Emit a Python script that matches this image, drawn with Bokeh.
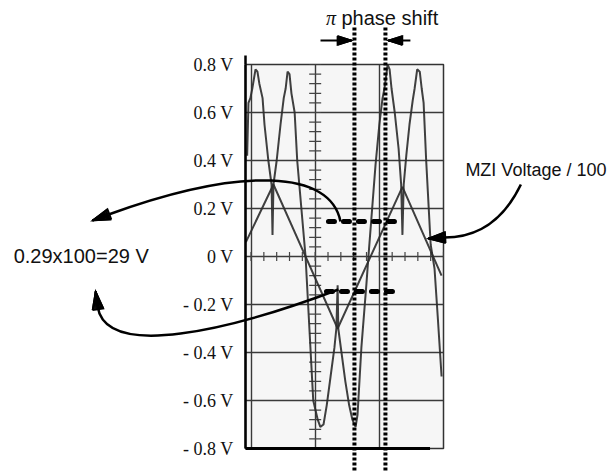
import numpy as np
from bokeh.plotting import figure
from bokeh.models import Range1d, FixedTicker, Grid
from bokeh.core.properties import value
from bokeh.embed import file_html
from bokeh.resources import INLINE

# ---- data (time in screen divisions, voltage in V) ----
det_t = [-0.06, -0.04, -0.01, 0.02, 0.07, 0.10, 0.13, 0.18, 0.21, 0.27, 0.32, 0.335, 0.35,
         0.40, 0.46, 0.51, 0.54, 0.57, 0.60, 0.63, 0.68, 0.72, 0.85, 0.97, 1.04, 1.08,
         1.13, 1.18, 1.24, 1.30, 1.33, 1.35, 1.36, 1.41, 1.47, 1.53, 1.58, 1.63, 1.66,
         1.72, 1.80, 1.83, 1.94, 2.00, 2.05, 2.08, 2.13, 2.16, 2.19, 2.24, 2.30, 2.34,
         2.36, 2.38, 2.42, 2.47, 2.52, 2.55, 2.59, 2.63, 2.66, 2.69, 2.73, 2.80, 2.86,
         2.91, 2.97]
det_v = [0.42, 0.64, 0.66, 0.70, 0.78, 0.77, 0.72, 0.66, 0.55, 0.40, 0.30, 0.09, 0.30,
         0.40, 0.55, 0.66, 0.70, 0.77, 0.76, 0.68, 0.60, 0.40, 0.00, -0.60, -0.68, -0.71,
         -0.70, -0.62, -0.50, -0.38, -0.30, -0.12, -0.30, -0.40, -0.52, -0.62, -0.68, -0.71, -0.66,
         -0.38, -0.11, 0.00, 0.38, 0.55, 0.66, 0.70, 0.80, 0.78, 0.70, 0.60, 0.45, 0.30,
         0.09, 0.30, 0.42, 0.55, 0.65, 0.70, 0.78, 0.77, 0.70, 0.64, 0.40, 0.05, -0.05,
         -0.25, -0.50]
mzi_t = [-0.08, 0.35, 1.35, 2.36, 2.97]
mzi_v = [0.06, 0.30, -0.30, 0.29, -0.08]

y_ticks = [-0.8, -0.6, -0.4, -0.2, 0.0, 0.2, 0.4, 0.6, 0.8]
y_tick_labels = ["- 0.8 V", "- 0.6 V", "- 0.4 V", "- 0.2 V", "0 V",
                 "0.2 V", "0.4 V", "0.6 V", "0.8 V"]
x_divs = [0, 1, 2, 3]

INK = "#111111"
TRACE = "#2b2b2b"

X0, X1, Y0, Y1 = -0.086, 3.0, -0.8, 0.8
FW, FH = 198, 384          # frame size in px
SX = FW / (X1 - X0)        # px per division
SY = FH / (Y1 - Y0)        # px per volt

p = figure(width=610, height=472, title=None,
           x_range=Range1d(X0, X1), y_range=Range1d(Y0, Y1),
           x_axis_type=None, toolbar_location=None, output_backend="svg",
           min_border_left=245, min_border_right=610 - 245 - FW, min_border_top=64,
           min_border_bottom=472 - 64 - FH)
p.background_fill_color = "#f6f6f6"
p.border_fill_color = "white"
p.outline_line_color = "#333333"
p.outline_line_width = 1.5

# y axis
ax = p.yaxis[0]
ax.ticker = FixedTicker(ticks=y_ticks)
ax.major_label_overrides = {t: lab for t, lab in zip(y_ticks, y_tick_labels)}
ax.major_label_text_font = "Liberation Serif"
ax.major_label_text_font_size = "18px"
ax.major_label_text_color = INK
ax.major_tick_out = 0
ax.major_tick_in = 0
ax.minor_tick_line_color = None
ax.major_label_standoff = 12
ax.axis_line_width = 2.5
ax.axis_line_color = "black"

# graticule
p.ygrid.ticker = FixedTicker(ticks=y_ticks)
p.ygrid.grid_line_color = "#3a3a3a"
p.ygrid.grid_line_width = 1.4
xg = Grid(dimension=0, ticker=FixedTicker(ticks=x_divs),
          grid_line_color="#3a3a3a", grid_line_width=1.4)
p.add_layout(xg)

# graticule minor ticks on centre lines
yt = np.arange(-0.8, 0.8001, 0.04)
p.segment(x0=1 - 6 / SX, x1=1 + 6 / SX, y0=yt, y1=yt, line_color="#444444", line_width=1.2)
xt = np.arange(0, 3.0001, 0.2)
p.segment(x0=xt, x1=xt, y0=-4.5 / SY, y1=4.5 / SY, line_color="#444444", line_width=1.2)

# traces
p.line(det_t, det_v, line_color=TRACE, line_width=2, line_alpha=0.9)
p.line(mzi_t, mzi_v, line_color=TRACE, line_width=2, line_alpha=0.9)

OV = dict(level="overlay")

# bottom thick edge and axis extension
p.segment(x0=X0, x1=2.79, y0=Y0, y1=Y0, line_color="black", line_width=3, **OV)
p.segment(x0=X0, x1=X0, y0=Y1, y1=Y1 + 9 / SY, line_color="black", line_width=2.5, **OV)

# dotted phase markers
p.segment(x0=[1.612, 2.095], x1=[1.612, 2.095], y0=0.954, y1=-0.9,
          line_color="black", line_width=4, line_dash="3 2", **OV)

# thick dashed level markers
p.segment(x0=[1.207, 1.176], x1=[2.329, 2.297], y0=[0.146, -0.146], y1=[0.146, -0.146],
          line_color="black", line_width=5, line_dash="6 9", line_cap="round", **OV)

# curved arrows
p.bezier(x0=1.394, y0=0.146, x1=-2.22, y1=0.175, cx0=1.238, cy0=0.358, cx1=-0.117, cy1=0.379,
         line_color="black", line_width=2.5, **OV)
p.bezier(x0=1.363, y0=-0.1375, x1=-2.391, y1=-0.208, cx0=-0.319, cy0=-0.308, cx1=-2.266, cy1=-0.433,
         line_color="black", line_width=2.5, **OV)
p.quadratic(x0=4.206, y0=0.30, x1=3.014, y1=0.079, cx=3.808, cy=0.079,
            line_color="black", line_width=2.5, **OV)

# straight arrow shafts
p.segment(x0=[-2.22, -2.391, 3.014, 1.083, 2.484],
          y0=[0.175, -0.208, 0.079, 0.90, 0.90],
          x1=[-2.40, -2.415, 2.85, 1.50, 2.20],
          y1=[0.157, -0.17, 0.077, 0.90, 0.90],
          line_color="black", line_width=[2.5, 2.5, 2.5, 2, 2], **OV)


def head(tx, ty, dx, dy, length, width, n=10):
    """Solid arrow head drawn as a fan of strokes; tip (tx, ty) in data units,
    direction (dx, dy) in screen px with y up."""
    d = np.hypot(dx, dy)
    ux, uy = dx / d, dy / d
    bx, by = -ux * length, -uy * length
    nx, ny = -uy * width / 2, ux * width / 2
    b1 = (tx + (bx + nx) / SX, ty + (by + ny) / SY)
    b2 = (tx + (bx - nx) / SX, ty + (by - ny) / SY)
    xs, ys = [], []
    for k in np.linspace(0, 1, n):
        xs.append([tx, b1[0] + (b2[0] - b1[0]) * k])
        ys.append([ty, b1[1] + (b2[1] - b1[1]) * k])
    xs.append([b1[0], b2[0], tx, b1[0]])
    ys.append([b1[1], b2[1], ty, b1[1]])
    return xs, ys


hx, hy = [], []
for spec in [(-2.469, 0.150, -16, -6, 18, 11),
             (-2.422, -0.146, -2, 15, 18, 11),
             (2.765, 0.075, -18, -1, 17, 11),
             (1.565, 0.90, 1, 0, 14, 9),
             (2.142, 0.90, -1, 0, 14, 9)]:
    xs, ys = head(*spec)
    hx += xs
    hy += ys
p.multi_line(xs=hx, ys=hy, line_color="black", line_width=1.6, line_join="miter", **OV)

# text labels
p.text(x=[1.17], y=[0.992], text=["π"], text_font=value("Liberation Serif"),
       text_font_style="italic", text_font_size="20px", text_color=INK,
       text_baseline="alphabetic", **OV)
p.text(x=[1.41], y=[0.992], text=["phase shift"], text_font=value("Liberation Sans"),
       text_font_size="20px", text_color=INK, text_baseline="alphabetic", **OV)
p.text(x=[3.341], y=[0.3625], text=["MZI Voltage / 100"], text_font=value("Liberation Sans"),
       text_font_size="18px", text_color=INK, text_baseline="middle", **OV)
p.text(x=[-3.699], y=[0.004], text=["0.29x100=29 V"], text_font=value("Liberation Sans"),
       text_font_size="20px", text_color=INK, text_baseline="middle", **OV)

open("out.html", "w").write(file_html(p, INLINE))
